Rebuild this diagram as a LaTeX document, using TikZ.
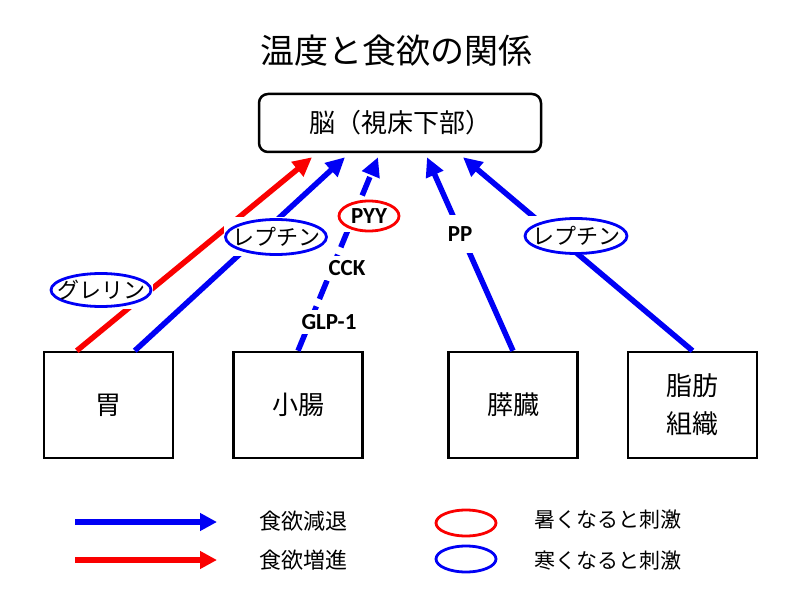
\documentclass[tikz,border=0pt]{standalone}
\usepackage{fontspec}
\setmainfont{Noto Sans CJK JP}
\newfontfamily\calfont{Carlito}
\usetikzlibrary{arrows.meta,shapes.geometric}
\definecolor{myred}{RGB}{250,0,0}
\definecolor{myblue}{RGB}{0,0,245}
\newcommand{\fs}[1]{\fontsize{#1pt}{#1pt}\selectfont}
\tikzset{
  organ/.style={draw, line width=2.5pt, minimum width=129pt, minimum height=106pt, inner sep=0pt, font=\fs{26}, align=center},
  brainbox/.style={draw, line width=2.5pt, rounded corners=9pt, minimum width=282pt, minimum height=58pt, inner sep=0pt, font=\fs{26}},
  arr/.style={line width=5.5pt, -{Triangle[length=19pt,width=18pt]}},
  redarr/.style={arr, myred},
  bluearr/.style={arr, myblue},
  dasharr/.style={bluearr, dash pattern=on 20pt off 8pt},
  whitebox/.style={fill=white, inner sep=0pt},
  oval/.style={ellipse, draw=#1, line width=2.8pt, fill=white, inner sep=0pt},
  jlabel/.style={font=\fs{22}, inner sep=0pt},
  elabel/.style={font=\calfont\bfseries\fs{23}, inner sep=0pt},
  legtext/.style={font=\fs{21}, anchor=west},
}
\begin{document}
\begin{tikzpicture}[x=1pt,y=-1pt]
\useasboundingbox (0,0) rectangle (800,612);
\fill[white] (0,0) rectangle (800,612);

% title
\node[font=\fs{34}] (title) at (396,51) {温度と食欲の関係};

% brain
\node[brainbox] (brain) at (400,123) {脳（視床下部）};

% organs
\node[organ] (stomach) at (108.5,405) {胃};
\node[organ] (intestine) at (298,405) {小腸};
\node[organ] (pancreas) at (513,405) {膵臓};
\node[organ] (fat) at (692.5,405) {\fs{26}脂肪\\[12pt]組織};

% arrows
\draw[redarr] ([xshift=34pt]stomach.north west) -- ([xshift=-88pt,yshift=-4pt]brain.south);
\draw[bluearr] ([xshift=92pt]stomach.north west) -- ([xshift=-55pt,yshift=-4pt]brain.south);
\draw[dasharr] (intestine.north) -- ([xshift=-22pt,yshift=-4pt]brain.south);
\draw[bluearr] (pancreas.north) -- ([xshift=27pt,yshift=-4pt]brain.south);
\draw[bluearr] (fat.north) -- ([xshift=63pt,yshift=-4pt]brain.south);

% labels on arrows
\node[whitebox, minimum width=103pt, minimum height=37pt] (grelinbg) at (101,290) {};
\node[oval=myblue, minimum width=100pt, minimum height=33pt] (grelinov) at (grelinbg) {};
\node[jlabel] (grelin) at (grelinov) {グレリン};

\node[whitebox, minimum width=104pt, minimum height=39pt] (leptin1bg) at (276,237) {};
\node[oval=myblue, minimum width=101pt, minimum height=35pt] (leptin1ov) at (leptin1bg) {};
\node[jlabel] (leptin1) at (leptin1ov) {レプチン};

\node[whitebox, minimum width=63pt, minimum height=33pt] (pyybg) at (369,216) {};
\node[oval=myred, minimum width=60pt, minimum height=30pt] (pyyov) at (pyybg) {};
\node[elabel] (pyy) at (pyyov) {PYY};

\node[whitebox, minimum width=46pt, minimum height=24pt, elabel] (cck) at (347,268) {CCK};
\node[whitebox, minimum width=60pt, minimum height=24pt, elabel] (glp) at (329,322) {GLP-1};
\node[whitebox, minimum width=30pt, minimum height=38pt, elabel] (pp) at (460,234) {PP};

\node[whitebox, minimum width=105pt, minimum height=39pt] (leptin2bg) at (576,236) {};
\node[oval=myblue, minimum width=102pt, minimum height=35pt] (leptin2ov) at (leptin2bg) {};
\node[jlabel] (leptin2) at (leptin2ov) {レプチン};

% legend
\coordinate (la1) at (75,522);
\coordinate (la2) at (217,522);
\coordinate (lb1) at (75,560);
\coordinate (lb2) at (217,560);
\draw[bluearr, -{Triangle[length=17pt,width=17pt]}] (la1) -- (la2);
\draw[redarr, -{Triangle[length=17pt,width=17pt]}] (lb1) -- (lb2);
\node[legtext, font=\fs{22}] (ltxt1) at (256,521) {食欲減退};
\node[legtext, font=\fs{22}] (ltxt2) at (256,560) {食欲増進};

\node[ellipse, draw=myred, line width=2.8pt, minimum width=60pt, minimum height=26pt, inner sep=0pt] (lo1) at (466,523) {};
\node[ellipse, draw=myblue, line width=2.8pt, minimum width=60pt, minimum height=26pt, inner sep=0pt] (lo2) at (466,559) {};
\node[legtext] (ltxt3) at (531,520) {暑くなると刺激};
\node[legtext] (ltxt4) at (531,561) {寒くなると刺激};
\end{tikzpicture}
\end{document}
